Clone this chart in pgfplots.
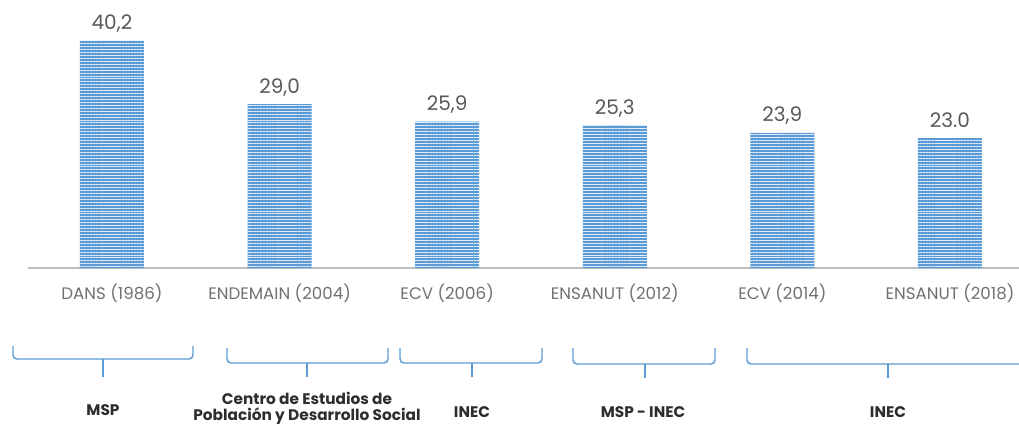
\documentclass[border=0pt]{standalone}
\usepackage{pgfplots}
\pgfplotsset{compat=1.18}
\usepackage{pgfplotstable}
\usepackage{fontspec}
\setmainfont{Poppins}
\usetikzlibrary{patterns.meta}

\definecolor{barblue}{RGB}{91,155,213}
\definecolor{stripe}{RGB}{225,236,248}
\definecolor{valgray}{RGB}{89,89,89}
\definecolor{catgray}{RGB}{112,112,112}
\definecolor{grpgray}{RGB}{45,45,45}
\definecolor{axisgray}{RGB}{190,190,190}

% desnutricion cronica, menores de 5 anos
\pgfplotstableread{
x y lbl
0 40.2 40,2
1 29.0 29,0
2 25.9 25,9
3 25.3 25,3
4 23.9 23,9
5 23.0 23.0
}\encuestas

\begin{document}
\begin{tikzpicture}
\path[use as bounding box] (0pt,0pt) rectangle (764.25pt,318.75pt);
\clip (0pt,0pt) rectangle (764.25pt,318.75pt);
\begin{axis}[
  at={(21pt,117.75pt)}, anchor=south west,
  scale only axis, width=743.25pt, height=201pt,
  xmin=-0.501, xmax=5.412, ymin=0, ymax=47.43,
  hide y axis, axis x line*=bottom,
  x axis line style={axisgray, line width=1.1pt, -},
  xtick=data, major tick length=0pt,
  xticklabels={DANS (1986), ENDEMAIN (2004), ECV (2006), ENSANUT (2012), ECV (2014), ENSANUT (2018)},
  xticklabel style={anchor=base, inner sep=0pt, yshift=-23.25pt, text=catgray, font=\fontsize{12.5pt}{14pt}\selectfont},
  point meta=explicit symbolic,
  nodes near coords={\pgfplotspointmeta},
  nodes near coords style={anchor=base, inner sep=0pt, yshift=8.25pt, text=valgray, font=\fontsize{15pt}{18pt}\selectfont},
  clip=false,
]
\addplot[ybar, bar width=48pt, fill=barblue, draw=none,
  postaction={pattern={Lines[angle=0, distance=2.2pt, line width=0.55pt]}, pattern color=stripe}]
  table[x=x, y=y, meta=lbl] {\encuestas};
\end{axis}

\begin{scope}[shift={(0pt,318.75pt)}, x=0.75pt, y=-0.75pt]
  \begin{scope}[barblue, line width=1.1pt, rounded corners=3pt]
    \draw (13,346) -- (13,359) -- (193,359) -- (193,346);
    \draw (227,348) -- (227,363) -- (388,363) -- (388,348);
    \draw (400,348) -- (400,363) -- (542,363) -- (542,348);
    \draw (573,348) -- (573,364) -- (715,364) -- (715,348);
    \draw (747,348) -- (747,364) -- (1030,364);
  \end{scope}
  \begin{scope}[barblue, line width=1.1pt]
    \draw (103,359) -- (103,377);
    \draw (307,363) -- (307,377);
    \draw (472,363) -- (472,377);
    \draw (645,364) -- (645,378);
    \draw (888,364) -- (888,378);
  \end{scope}
  \begin{scope}[text=grpgray, font=\bfseries\fontsize{11.5pt}{13pt}\selectfont]
    \node at (103,410) {MSP};
    \node at (307,398) {Centro de Estudios de};
    \node[anchor=base] at (307,420) {Población y Desarrollo Social};
    \node at (472,412) {INEC};
    \node at (643,412) {MSP - INEC};
    \node at (888,412) {INEC};
  \end{scope}
\end{scope}
\end{tikzpicture}
\end{document}
